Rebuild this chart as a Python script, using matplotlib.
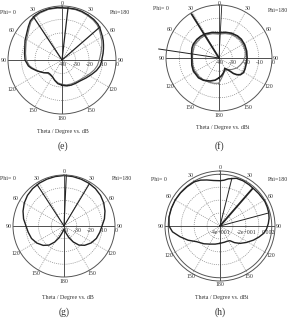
import numpy as np
import matplotlib
matplotlib.use("Agg")
import matplotlib.pyplot as plt
from matplotlib.transforms import offset_copy

# ---------------- data ----------------
# angles in degrees, clockwise from top; negative = Phi=0 side (left)
e_ang1 = [-180, -170, -160, -150, -140, -133, -125, -113, -105, -100, -90, -80, -72, -62, -52, -45, -39, -32, -25, -15, -5, 0,
          8, 15, 22, 30, 38, 45, 50, 55, 60, 65, 70, 75, 81, 87, 93, 99, 107, 116, 127, 139, 150, 160, 170, 180]
e_db1 = [-21.3, -22.2, -24.0, -25.8, -26.3, -26.1, -23.5, -19.6, -16.5, -14.7, -12.6, -11.8, -11.0, -9.0, -7.0, -4.8, -2.7, -1.5, -1.0, -0.8, -1.0, -1.3,
         -1.2, -1.0, -1.1, -1.5, -1.8, -2.4, -3.3, -4.5, -5.4, -6.3, -7.3, -8.2, -9.2, -10.2, -10.8, -11.5, -13.3, -15.6, -17.8, -19.5, -20.0, -20.2, -20.6, -21.3]
e_ang2 = [-180, -170, -160, -150, -140, -133, -125, -115, -105, -100, -90, -80, -72, -62, -52, -45, -39, -32, -25, -15, -5, 0,
          8, 15, 22, 30, 38, 45, 50, 55, 60, 65, 70, 75, 81, 87, 93, 99, 107, 116, 127, 139, 150, 160, 170, 180]
e_db2 = [-22.0, -22.8, -24.3, -25.5, -25.8, -25.5, -23.8, -20.5, -17.3, -15.5, -13.5, -12.6, -11.8, -10.0, -8.0, -5.8, -3.5, -2.3, -1.6, -1.2, -1.4, -1.6,
         -1.6, -1.4, -1.6, -2.0, -2.5, -3.2, -4.2, -5.5, -6.5, -7.5, -8.6, -9.8, -11.0, -12.0, -12.8, -13.5, -15.0, -17.0, -19.0, -20.3, -20.8, -21.0, -21.3, -22.0]
e_marks_ang = [6.6, -33.5, 49]
e_marks_db = [-1.0, -1.5, -2.8]

f_ang1 = [-180, -170, -159, -145, -134, -117, -105, -93, -80, -70, -62, -50, -40, -30, -15, 0, 14, 27, 40, 50, 63, 76, 90,
          103, 113, 121, 128, 133, 137, 140, 145, 151, 158, 165, 172, 180]
f_db1 = [-25.0, -23.0, -21.4, -19.5, -18.5, -18.3, -18.8, -19.4, -19.0, -18.3, -18.0, -18.2, -18.6, -19.0, -20.0, -21.0, -20.0, -19.0, -18.3, -18.0, -18.2, -18.5, -18.8,
         -19.0, -18.7, -18.5, -19.5, -21.5, -24.0, -27.0, -29.5, -31.0, -29.5, -28.0, -26.5, -25.0]
f_ang2 = [-180, -170, -159, -145, -134, -117, -105, -93, -80, -62, -45, -30, -15, 0, 14, 27, 40, 50, 63, 76, 87, 98, 108, 119, 132, 145, 158, 169, 180]
f_db2 = [-21.0, -20.6, -20.3, -19.8, -19.4, -19.2, -19.6, -20.0, -19.8, -19.0, -19.5, -20.0, -21.0, -22.0, -21.0, -20.0, -19.5, -19.0, -19.3, -19.5, -20.3, -21.5, -23.0, -24.5, -27.0, -29.4, -29.0, -26.0, -21.0]
f_marks_ang = [3, -32, -81.5]
f_marks_db = [0.0, -1.0, 6.0]

g_ang = [-180, -170, -163, -157, -150, -142, -133, -122, -111, -100, -90, -80, -70, -60, -50, -40, -30, -20, -10, 0,
         10, 20, 30, 40, 50, 60, 70, 80, 90, 100, 111, 122, 133, 142, 150, 157, 163, 170, 180]
g_db = [-37.0, -36.0, -33.7, -30.0, -25.5, -21.0, -17.7, -14.8, -12.7, -11.5, -10.2, -7.8, -5.8, -4.0, -2.6, -1.7, -1.2, -0.9, -0.6, -0.4,
        -0.6, -0.9, -1.2, -1.7, -2.6, -4.0, -5.8, -7.8, -10.2, -11.5, -12.8, -14.9, -17.8, -21.0, -25.6, -30.0, -33.7, -36.0, -37.0]
g_marks_ang = [2.6, -33, 31]
g_marks_db = [0.0, -1.3, -1.3]

h_ang = [-180, -165, -151, -138, -124, -114, -105, -97, -90, -80, -70, -60, -50, -40, -30, -23, -16, -8, 0, 5, 10, 19, 27, 35, 43, 50,
         61, 68, 75, 81, 87, 94, 100, 106, 113, 122, 131, 139, 146, 155, 165, 180]
h_db = [-26.6, -25.5, -24.0, -21.5, -18.3, -13.0, -8.0, -3.0, -0.6, 0.0, 0.0, 0.0, -0.2, -0.4, -0.5, -1.5, -3.0, -4.5, -5.0, -4.5, -3.0, -1.0, -0.8, -1.0, -1.2, -1.0,
        -0.5, -0.7, -1.0, -1.6, -2.6, -4.0, -6.0, -8.8, -12.0, -16.0, -19.5, -23.0, -26.3, -27.0, -27.0, -26.6]
h_marks_ang = [14, 41, 75]
h_marks_db = [-2.0, -1.5, -1.5]

angle_labels = ["0", "30", "60", "90", "120", "150", "180"]
radial_e = ["-40", "-30", "-20", "-10", "0"]
radial_h = ["-4e+001", "-2e+001", "0.002"]

W, H = 287, 319
fig = plt.figure(figsize=(W / 100, H / 100), dpi=100)
fig.patch.set_facecolor("white")
FONT = "Liberation Serif"
FS = 4.2


def make_ax(cx, cy, R):
    ax = fig.add_axes([(cx - R) / W, (H - (cy + R)) / H, 2 * R / W, 2 * R / H], projection="polar")
    ax.set_theta_zero_location("N")
    ax.set_theta_direction(-1)
    ax.grid(False)
    ax.set_xticks([])
    ax.set_yticks([])
    ax.spines["polar"].set_linewidth(0.7)
    ax.spines["polar"].set_color("#555555")
    return ax


def frame(ax, rmax, ring_vals, lab_r, top_r):
    ax.set_ylim(-40, rmax)
    t = np.linspace(0, 2 * np.pi, 361)
    for rv in ring_vals:
        ax.plot(t, np.full_like(t, rv), color="#8a8a8a", lw=0.5, ls=(0, (1.5, 1.5)))
    for a in [30, 60, 120, 150]:
        for s in [1, -1]:
            ax.plot([np.radians(s * a)] * 2, [-40, rmax], color="#8a8a8a", lw=0.5, ls=(0, (1.5, 1.5)))
    for a in [0, 90, 180, 270]:
        ax.plot([np.radians(a)] * 2, [-40, rmax], color="#333333", lw=0.6)
    for i, lab in enumerate(angle_labels):
        a = 30 * i
        r = top_r if a == 0 else lab_r
        for s in ([1, -1] if a not in (0, 180) else [1]):
            ax.text(np.radians(s * a), r, lab, ha="center", va="center", fontsize=FS,
                    family=FONT, color="#333333", clip_on=False)


def curve(ax, ang, db, color, lw):
    ax.plot(np.radians(ang), db, color=color, lw=lw, clip_on=False)


def marks(ax, ang, db, color="#222222", lw=0.9):
    for a, d in zip(ang, db):
        ax.plot([np.radians(a)] * 2, [-40, d], color=color, lw=lw, clip_on=False)


def radial(ax, labels, vals, dx=0):
    tr = offset_copy(ax.transData, fig=fig, x=dx, y=-4.5, units="dots")
    for lab, v in zip(labels, vals):
        ax.text(np.radians(90), v, lab, ha="center", va="center", fontsize=FS,
                family=FONT, color="#333333", transform=tr, clip_on=False)


def figtext(x, y, s, size=FS, ha="center"):
    fig.text(x / W, 1 - y / H, s, ha=ha, va="center", fontsize=size, family=FONT, color="#333333")


# (e)
ax = make_ax(62, 60, 54)
frame(ax, 0, [-30, -20, -10], 3.2, 1.6)
curve(ax, e_ang2, e_db2, "#777777", 0.8)
curve(ax, e_ang1, e_db1, "#222222", 1.0)
marks(ax, e_marks_ang, e_marks_db)
radial(ax, radial_e, [-40, -30, -20, -10, 0], dx=1)

# (f)
ax = make_ax(219, 58, 53)
frame(ax, 0, [-30, -20, -10], 3.2, 1.2)
curve(ax, f_ang2, f_db2, "#777777", 0.8)
curve(ax, f_ang1, f_db1, "#222222", 1.2)
marks(ax, f_marks_ang[:1], f_marks_db[:1], lw=0.6)
marks(ax, f_marks_ang[1:2], f_marks_db[1:2], lw=1.3)
marks(ax, f_marks_ang[2:], f_marks_db[2:], lw=0.7)
radial(ax, radial_e, [-40, -30, -20, -10, 0], dx=1)

# (g)
ax = make_ax(64, 226, 51)
frame(ax, 0, [-30, -20, -10], 3.4, 3.0)
curve(ax, g_ang, g_db, "#222222", 1.0)
marks(ax, g_marks_ang, g_marks_db, lw=0.8)
radial(ax, radial_e, [-40, -30, -20, -10, 0], dx=1)

# (h)
ax = make_ax(220, 226, 55)
frame(ax, 2.5, [-30, -20, -10], 5.5, 5.0)
t = np.linspace(0, 2 * np.pi, 361)
ax.plot(t, np.zeros_like(t), color="#555555", lw=0.7)
curve(ax, h_ang, h_db, "#222222", 1.0)
marks(ax, h_marks_ang[:1], h_marks_db[:1], lw=0.7)
marks(ax, h_marks_ang[1:2], h_marks_db[1:2], lw=1.3)
marks(ax, h_marks_ang[2:], h_marks_db[2:], lw=0.7)
for lab, x in zip(radial_h, [221, 247, 268]):
    fig.text(x / W, 1 - 232 / H, lab, ha="center", va="center", fontsize=FS,
             family=FONT, color="#333333")

# labels
figtext(0, 12, "Phi= 0", ha="left")
figtext(110, 12, "Phi=180", ha="left")
figtext(153, 9, "Phi= 0", ha="left")
figtext(268, 10, "Phi=180", ha="left")
figtext(0, 178, "Phi= 0", ha="left")
figtext(112, 178, "Phi=180", ha="left")
figtext(151, 180, "Phi= 0", ha="left")
figtext(268, 180, "Phi=180", ha="left")

figtext(63, 131, "Theta / Degree vs. dB")
figtext(223, 128, "Theta / Degree vs. dBi")
figtext(68, 297, "Theta / Degree vs. dB")
figtext(222, 297, "Theta / Degree vs. dBi")

figtext(63, 146, "(e)", size=7)
figtext(219, 146, "(f)", size=7)
figtext(64, 312, "(g)", size=7)
figtext(220, 312, "(h)", size=7)

fig.savefig("out.png", dpi=100, facecolor="white")
